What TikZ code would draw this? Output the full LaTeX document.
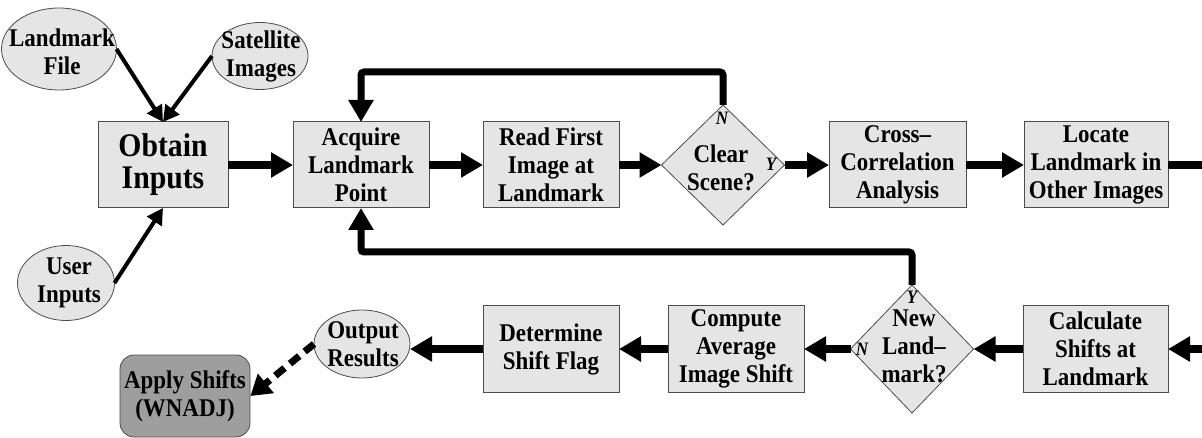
\documentclass[tikz,border=0pt]{standalone}
\usepackage{fontspec}
\setmainfont{Liberation Serif}[FakeStretch=0.9]
\usetikzlibrary{arrows.meta,shapes.geometric}
\definecolor{boxfill}{gray}{0.9}
\definecolor{darkfill}{gray}{0.62}
\definecolor{edge}{gray}{0.3}
\tikzset{
  txt/.style={font=\bfseries\fontsize{25.5}{28}\selectfont, align=center},
  procbox/.style={txt, draw=edge, line width=1pt, fill=boxfill, rectangle, inner sep=0pt, outer sep=0pt, minimum height=86pt},
  oval/.style={draw=edge, line width=0.8pt, fill=boxfill, ellipse, inner sep=0pt, outer sep=0pt},
  decision/.style={draw=edge, line width=0.8pt, fill=boxfill, diamond, inner sep=0pt, outer sep=0pt},
  yn/.style={font=\bfseries\itshape\fontsize{19}{19}\selectfont, inner sep=0pt},
  bigarrow/.style={line width=8pt, -{Triangle[length=22pt,width=24pt]}},
  thinarrow/.style={line width=4pt, -{Triangle[length=16pt,width=17pt]}},
  loopline/.style={line width=7pt, rounded corners=3pt},
}
\begin{document}
\begin{tikzpicture}[x=1pt,y=-1pt]
\useasboundingbox (0,0) rectangle (1202,438);
% top row
\node[procbox, minimum width=130pt, font=\bfseries\fontsize{33}{32}\selectfont] (obtain) at (163,165) {Obtain\\Inputs};
\node[procbox, minimum width=136pt] (acquire) at (361,165) {Acquire\\Landmark\\Point};
\node[procbox, minimum width=136pt] (read) at (551,165) {Read First\\Image at\\Landmark};
\node[decision, minimum width=123pt, minimum height=120pt] (clear) at (723,165) {};
\node[txt, inner sep=0pt] (cleartxt) at (721,168) {Clear\\Scene?};
\node[yn] (clearN) at (722,118) {N};
\node[yn] (clearY) at (771,164) {Y};
\node[procbox, minimum width=137pt] (cross) at (897.5,165) {Cross–\\Correlation\\Analysis};
\node[procbox, minimum width=144pt] (locate) at (1096,165) {Locate\\Landmark in\\Other Images};
% inputs
\node[oval, minimum width=115pt, minimum height=82pt] (lmfile) at (59,49) {};
\node[txt, inner sep=0pt] (lmfiletxt) at (62,52) {Landmark\\File};
\node[oval, minimum width=96pt, minimum height=67pt] (sat) at (260,56) {};
\node[txt, inner sep=0pt] (sattxt) at (261,56) {Satellite\\Images};
\node[oval, minimum width=97pt, minimum height=75pt] (user) at (66,283) {};
\node[txt, inner sep=0pt] (usertxt) at (69,283) {User\\Inputs};
% bottom row
\node[procbox, minimum width=145pt] (calc) at (1095.5,349) {Calculate\\Shifts at\\Landmark};
\node[decision, minimum width=123pt, minimum height=128pt] (newlm) at (912,349) {};
\node[txt, inner sep=0pt] (newlmtxt) at (914,346) {New\\Land–\\mark?};
\node[yn] (newY) at (912,297) {Y};
\node[yn] (newN) at (862,349) {N};
\node[procbox, minimum width=136pt] (compute) at (736,349) {Compute\\Average\\Image Shift};
\node[procbox, minimum width=136pt] (determine) at (551,349) {Determine\\Shift Flag};
\node[oval, minimum width=96pt, minimum height=68pt] (output) at (362,344) {};
\node[txt, inner sep=0pt] (outputtxt) at (363,344) {Output\\Results};
\node[txt, draw=edge, line width=0.8pt, fill=darkfill, rounded corners=14pt, inner sep=0pt, minimum width=130pt, minimum height=82pt] (apply) at (185,396) {Apply Shifts\\(WNADJ)};
% edge coordinates
\coordinate (outR) at (1202,165);
\coordinate (inR) at (1202,349);
\coordinate (topY) at (723,72);
\coordinate (midY) at (912,252);
% connectors
\draw[thinarrow] (lmfile.east) -- (obtain.north);
\draw[thinarrow] (sat.west) -- (obtain.north);
\draw[thinarrow] (user.east) -- (obtain.south);
\draw[bigarrow] (obtain) -- (acquire);
\draw[bigarrow] (acquire) -- (read);
\draw[bigarrow] (read) -- (clear.west);
\draw[bigarrow] (clear.east) -- (cross);
\draw[bigarrow] (cross) -- (locate);
\draw[line width=8pt] (locate.east) -- (outR);
\draw[bigarrow] (inR) -- (calc.east);
\draw[bigarrow] (calc) -- (newlm.east);
\draw[bigarrow] (newlm.west) -- (compute);
\draw[bigarrow] (compute) -- (determine);
\draw[bigarrow] (determine.west) -- (determine.west -| output.east);
\draw[line width=7pt, dash pattern=on 12pt off 7pt, -{Triangle[length=20pt,width=24pt]}] (output.west) -- (apply.east);
\draw[loopline, -{Triangle[length=22pt,width=24pt]}] (clear.north) -- (topY) -| (acquire.north);
\draw[loopline, -{Triangle[length=22pt,width=24pt]}] (newlm.north) -- (midY) -| (acquire.south);
\end{tikzpicture}
\end{document}
